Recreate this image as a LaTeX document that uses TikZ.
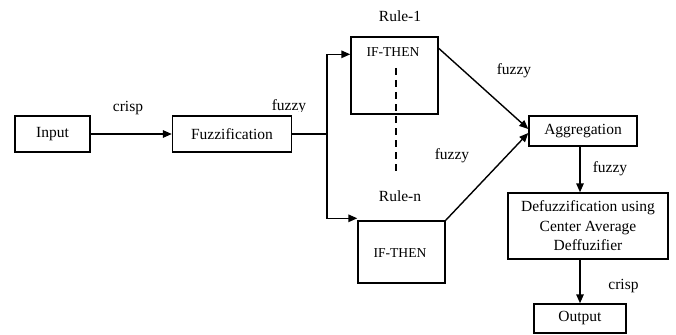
\documentclass[tikz,border=0pt]{standalone}
\usepackage{fontspec}
\setmainfont{Liberation Serif}
\usetikzlibrary{arrows.meta}
\begin{document}
\begin{tikzpicture}[x=1pt,y=-1pt,
  every node/.style={font=\fontsize{15.5}{19.5}\selectfont, inner sep=0pt},
  box/.style={draw, line width=1.4pt, anchor=center, align=center},
  lbl/.style={anchor=base},
  ifthen/.style={anchor=base, font=\fontsize{13.6}{16}\selectfont},
  conn/.style={line width=1.4pt},
  arr/.style={conn, -{Triangle[length=9pt,width=7.5pt]}},
  dashline/.style={line width=1.4pt, dash pattern=on 7pt off 5pt},
]
\useasboundingbox (0,0) rectangle (676,334);
% boxes
\node[box, minimum width=75pt, minimum height=36pt] (input) at (52.5,134) {Input};
\node[box, minimum width=119pt, minimum height=36pt] (fuzz) at (232,134) {Fuzzification};
\node[box, minimum width=87pt, minimum height=77pt] (rule1) at (394.5,75.5) {};
\node[box, minimum width=87pt, minimum height=62pt] (rulen) at (401.5,252) {};
\node[box, minimum width=108pt, minimum height=30pt] (agg) at (583,131) {Aggregation};
\node[box, minimum width=160pt, minimum height=66pt] (defuzz) at (588,226) {Defuzzification using\\Center Average\\Deffuzifier};
\node[box, minimum width=92pt, minimum height=29pt] (output) at (580,318.5) {Output};
% texts
\node[ifthen] (if1) at (393,57) {IF-THEN};
\node[ifthen] (ifn) at (400,257) {IF-THEN};
\node[lbl] (r1) at (400,22) {Rule-1};
\node[lbl] (rn) at (400,201) {Rule-n};
\node[lbl] (crisp1) at (128,111) {crisp};
\begin{scope}
\clip (250,90) rectangle (330,111);
\node[lbl] (fz0) at (289,110.5) {fuzzy};
\end{scope}
\node[lbl] (fz1) at (514,75) {fuzzy};
\node[lbl] (fz2) at (452,159) {fuzzy};
\node[lbl] (fz3) at (610,172) {fuzzy};
\node[lbl] (crisp2) at (623.5,289) {crisp};
% connectors
\coordinate (j) at (327,134);
\draw[arr] (input) -- (fuzz);
\draw[conn] (fuzz.east) -- (j);
\draw[arr] (j) |- ([yshift=-18pt]rule1.north west);
\draw[arr] (j) |- ([yshift=2pt]rulen.north west);
\coordinate (d1) at (396,68);
\coordinate (d2) at (396,172);
\draw[dashline] (d1) -- (d2);
\draw[arr] ([yshift=-12pt]rule1.north east) -- ([yshift=2pt]agg.west);
\draw[arr] (rulen.north east) -- ([yshift=-2pt]agg.west);
\draw[arr] ([xshift=-3pt]agg.south) -- ([xshift=-3pt]agg.south |- defuzz.north);
\draw[arr] (defuzz.south -| output.north) -- (output.north);
\end{tikzpicture}
\end{document}
